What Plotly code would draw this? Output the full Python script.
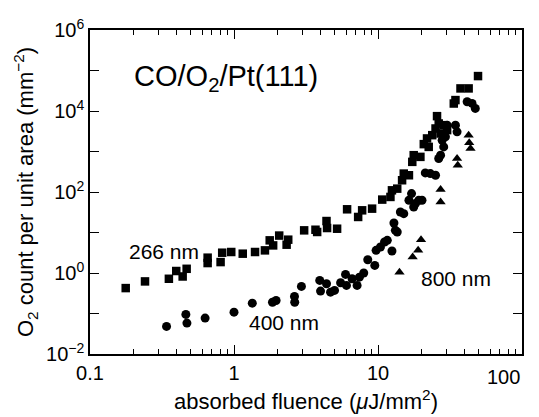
import plotly.graph_objects as go

# 266 nm (squares)
x266 = [0.177, 0.241, 0.353, 0.397, 0.44, 0.469, 0.656, 0.656, 0.807, 0.828, 0.957, 1.15, 1.40, 1.64,
        1.77, 1.87, 2.06, 2.32, 2.38, 3.07, 3.68, 3.78, 4.39, 4.43, 5.2, 6.1, 7.28, 7.76, 9.1, 10.7,
        12.2, 12.5, 13.6, 14.7, 15.1, 16.4, 17.3, 17.7, 19.7, 20.8, 21.9, 22.5, 23.8, 25.1, 25.7, 26.4,
        27.2, 28.6, 30.2, 33.6, 34.5, 37.4, 42.6, 49.5]
y266 = [0.424, 0.62, 0.72, 1.12, 0.82, 1.27, 2.39, 1.76, 1.86, 3.17, 3.3, 3.0, 3.3, 3.62,
        6.4, 4.8, 8.4, 5.0, 6.65, 11.3, 11.7, 10.3, 19.2, 12.9, 12.4, 37.4, 24.2, 35.3, 38.8, 64.9,
        75.5, 110, 121, 195, 285, 259, 555, 811, 737, 1520, 2100, 1300, 2530, 3700, 7460, 4920,
        2780, 4470, 3370, 15300, 18600, 36100, 36100, 72800]

# 400 nm (circles)
x400 = [0.34, 0.463, 0.471, 0.63, 1.0, 1.34, 1.85, 1.96, 2.63, 2.64, 2.94, 3.94, 3.99, 4.39, 4.68,
        4.99, 5.5, 5.95, 6.04, 6.61, 7.16, 7.43, 7.96, 8.49, 9.5, 9.7, 10.4, 11.1, 11.6, 12.5, 12.9,
        13.2, 13.6, 14.3, 15.1, 16.4, 17.1, 17.7, 18.2, 19.2, 20.2, 21.3, 23.1, 25.1, 26.4, 27.2,
        28.6, 27.9, 29.4, 30.2, 34.5, 35.4, 41.6, 45.0, 47.4]
y400 = [0.048, 0.095, 0.058, 0.077, 0.108, 0.18, 0.19, 0.21, 0.264, 0.19, 0.467, 0.656, 0.357, 0.543, 0.337,
        0.371, 0.574, 0.923, 0.493, 0.72, 0.493, 0.79, 1.0, 2.13, 1.54, 3.62, 4.38, 5.82, 6.4, 3.49, 17.2,
        11.3, 10.3, 32.1, 29.2, 62.5, 91.3, 42.7, 51.7, 62.5, 62.5, 296, 285, 259, 670, 811,
        1300, 1900, 2300, 4470, 4470, 3060, 16900, 15400, 11600]

# 800 nm (triangles)
x800 = [14.1, 17.4, 19.0, 19.9, 27.2, 27.2, 35.4, 35.8, 42.6, 43.0, 43.9]
y800 = [1.05, 2.48, 3.62, 6.65, 115, 56.8, 670, 458, 2530, 1640, 1180]

# axis ticks
x_ticks = [0.1, 1, 10, 100]
x_ticklabels = ["0.1", "1", "10", ""]   # "100" is drawn right-aligned at the axis end below
x_last_label = "100"
x_minor = [m * d for d in [0.1, 1, 10] for m in range(2, 10)]
y_ticks = [1e-2, 1e-1, 1e0, 1e1, 1e2, 1e3, 1e4, 1e5, 1e6]
y_ticklabels = ["10<sup>\u22122</sup>", "", "10<sup>0</sup>", "", "10<sup>2</sup>", "",
                "10<sup>4</sup>", "", "10<sup>6</sup>"]

FONT = "Liberation Sans, Arial, Helvetica, sans-serif"

fig = go.Figure()
fig.add_trace(go.Scatter(x=x266, y=y266, mode="markers",
                         marker=dict(symbol="square", size=8.5, color="black"), name="266 nm"))
fig.add_trace(go.Scatter(x=x400, y=y400, mode="markers",
                         marker=dict(symbol="circle", size=9, color="black"), name="400 nm"))
fig.add_trace(go.Scatter(x=x800, y=y800, mode="markers",
                         marker=dict(symbol="triangle-up", size=9, color="black"), name="800 nm"))

axis_common = dict(showgrid=False, zeroline=False, showline=True, linecolor="black", linewidth=1.5,
                   ticks="inside", ticklen=9, tickwidth=1.2, tickcolor="black", mirror="ticks",
                   automargin=False,
                   tickfont=dict(family=FONT, size=20, color="black"))

fig.update_xaxes(type="log", range=[-1, 2], tickmode="array", tickvals=x_ticks, ticktext=x_ticklabels,
                 minor=dict(ticks="inside", ticklen=5, tickwidth=1.2, tickcolor="black",
                            tickmode="array", tickvals=x_minor, showgrid=False),
                 title=dict(text="absorbed fluence (<i>\u03bc</i>J/mm<sup>2</sup>)",
                            font=dict(family=FONT, size=22, color="black"), standoff=11),
                 **axis_common)
fig.update_yaxes(type="log", range=[-2, 6], tickmode="array", tickvals=y_ticks, ticktext=y_ticklabels,
                 title=dict(text="O<sub>2</sub> count per unit area (mm<sup>\u22122</sup>)",
                            font=dict(family=FONT, size=22, color="black"), standoff=6),
                 **axis_common)

fig.add_annotation(x=2, y=0, xref="x", yref="paper", text=x_last_label, showarrow=False,
                   xanchor="right", yanchor="middle", xshift=0, yshift=-23,
                   font=dict(family=FONT, size=20, color="black"))

ann_font = dict(family=FONT, size=21, color="black")
fig.add_annotation(x=-0.705, y=4.82, xref="x", yref="y", text="CO/O<sub>2</sub>/Pt(111)",
                   showarrow=False, xanchor="left", yanchor="middle",
                   font=dict(family=FONT, size=29, color="black"))
fig.add_annotation(x=-0.74, y=0.52, xref="x", yref="y", text="266 nm", showarrow=False,
                   xanchor="left", yanchor="middle", font=ann_font)
fig.add_annotation(x=0.092, y=-1.215, xref="x", yref="y", text="400 nm", showarrow=False,
                   xanchor="left", yanchor="middle", font=ann_font)
fig.add_annotation(x=1.285, y=-0.126, xref="x", yref="y", text="800 nm", showarrow=False,
                   xanchor="left", yanchor="middle", font=ann_font)

# the page body adds an 8px margin, so the figure is sized/offset to land on the reference layout
fig.update_layout(width=531, height=409, showlegend=False,
                  paper_bgcolor="white", plot_bgcolor="white",
                  margin=dict(l=82, r=17, t=22, b=63),
                  font=dict(family=FONT, color="black"))

fig.write_html("out.html")
